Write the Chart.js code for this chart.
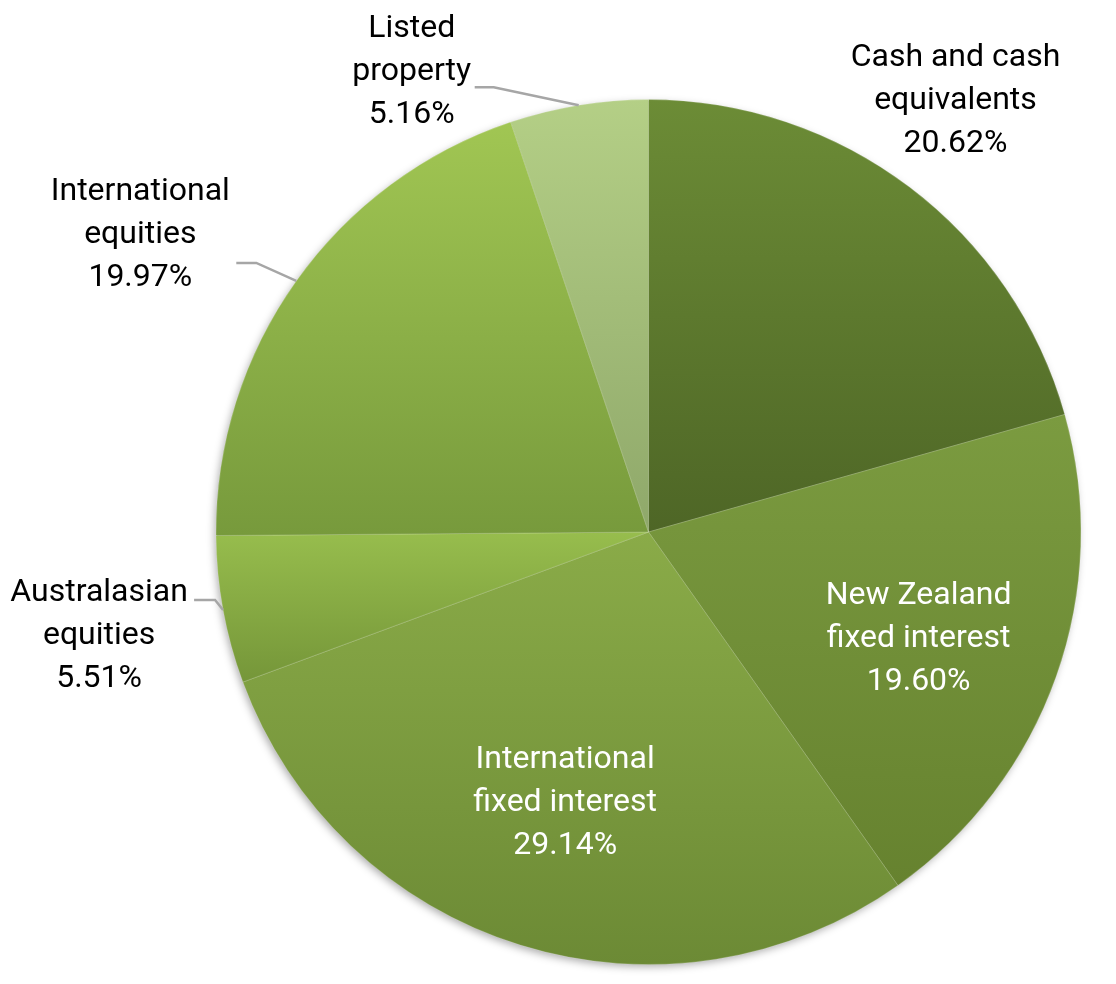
<!DOCTYPE html>
<html>
<head>
<meta charset="utf-8">
<script src="https://cdn.jsdelivr.net/npm/chart.js@4"></script>
<style>
  html, body { margin: 0; padding: 0; background: #ffffff; }
  #wrap { width: 1116px; height: 984px; }
</style>
</head>
<body>
<div id="wrap"><canvas id="graficoPizza"></canvas></div>
<script>
// data
const categories = [
  ['Cash and cash', 'equivalents'],
  ['New Zealand', 'fixed interest'],
  ['International', 'fixed interest'],
  ['Australasian', 'equities'],
  ['International', 'equities'],
  ['Listed', 'property']
];
const shares = [20.62, 19.60, 29.14, 5.51, 19.97, 5.16];

// gradient stops per slice (top, bottom)
const topColors = ['#6c8c36', '#7b9b40', '#8aab48', '#97bd4d', '#a1c653', '#b4cf86'];
const bottomColors = ['#4e6626', '#66822f', '#6c8a35', '#759639', '#779a3c', '#8fa86a'];

// label placement: inside (fraction of radius) or outside (offset from arc edge)
const labelPos = [
  { out: true, dx: 46, dy: -89, color: '#000' },
  { out: false, f: 0.67, ox: -3, oy: 7, color: '#fff' },
  { out: false, f: 0.65, ox: 0, oy: 0, color: '#fff' },
  { out: true, dx: -124, dy: 23, color: '#000', leader: [[-8, -10], [-29, -10]] },
  { out: true, dx: -156, dy: -49, color: '#000', leader: [[-40, -18], [-60, -18]] },
  { out: true, dx: -167, dy: -36, color: '#000', leader: [[-85, -18], [-104, -18]] }
];

function sliceYRange(cx, cy, r, a0, a1) {
  let ys = [cy, cy + r * Math.sin(a0), cy + r * Math.sin(a1)];
  const tops = [-Math.PI / 2, Math.PI * 1.5];
  const bots = [Math.PI / 2];
  tops.forEach(a => { if (a >= a0 && a <= a1) ys.push(cy - r); });
  bots.forEach(a => { if (a >= a0 && a <= a1) ys.push(cy + r); });
  return [Math.min(...ys), Math.max(...ys)];
}

function sliceFill(context) {
  const chart = context.chart;
  const area = chart.chartArea;
  const i = context.dataIndex;
  if (!area || i === undefined) return topColors[i || 0];
  const cx = (area.left + area.right) / 2;
  const cy = (area.top + area.bottom) / 2;
  const r = Math.min(area.right - area.left, area.bottom - area.top) / 2;
  const total = shares.reduce((a, b) => a + b, 0);
  let before = 0;
  for (let k = 0; k < i; k++) before += shares[k];
  const a0 = -Math.PI / 2 + before / total * Math.PI * 2;
  const a1 = a0 + shares[i] / total * Math.PI * 2;
  const yr = sliceYRange(cx, cy, r, a0, a1);
  const g = chart.ctx.createLinearGradient(0, yr[0], 0, yr[1]);
  g.addColorStop(0, topColors[i]);
  g.addColorStop(1, bottomColors[i]);
  return g;
}

const shadowPlugin = {
  id: 'shadowPlugin',
  beforeDatasetsDraw(chart) {
    const arc = chart.getDatasetMeta(0).data[0];
    if (!arc) return;
    const ctx = chart.ctx;
    ctx.save();
    ctx.shadowColor = 'rgba(0,0,0,0.35)';
    ctx.shadowBlur = 9;
    ctx.shadowOffsetX = -2;
    ctx.shadowOffsetY = 3;
    ctx.fillStyle = '#6f8f38';
    ctx.beginPath();
    ctx.arc(arc.x, arc.y, arc.outerRadius - 1, 0, Math.PI * 2);
    ctx.fill();
    ctx.restore();
  }
};

const labelPlugin = {
  id: 'labelPlugin',
  afterDatasetsDraw(chart) {
    const ctx = chart.ctx;
    const arcs = chart.getDatasetMeta(0).data;
    ctx.save();
    ctx.font = '32px Roboto';
    ctx.textAlign = 'center';
    ctx.textBaseline = 'middle';
    arcs.forEach((arc, i) => {
      const mid = (arc.startAngle + arc.endAngle) / 2;
      const p = labelPos[i];
      let tx, ty;
      if (p.out) {
        const ex = arc.x + arc.outerRadius * Math.cos(mid);
        const ey = arc.y + arc.outerRadius * Math.sin(mid);
        tx = ex + p.dx;
        ty = ey + p.dy;
        if (p.leader) {
          ctx.strokeStyle = '#a6a6a6';
          ctx.lineWidth = 2.5;
          ctx.beginPath();
          ctx.moveTo(ex, ey);
          p.leader.forEach(pt => ctx.lineTo(ex + pt[0], ey + pt[1]));
          ctx.stroke();
        }
      } else {
        tx = arc.x + arc.outerRadius * p.f * Math.cos(mid) + p.ox;
        ty = arc.y + arc.outerRadius * p.f * Math.sin(mid) + p.oy;
      }
      const lines = categories[i].concat([shares[i].toFixed(2) + '%']);
      const lh = 43;
      ctx.fillStyle = p.color;
      lines.forEach((t, k) => {
        ctx.fillText(t, tx, ty + 3 + (k - (lines.length - 1) / 2) * lh);
      });
    });
    ctx.restore();
  }
};

window.onload = function() {
  let ctx1 = document.getElementById('graficoPizza').getContext('2d');
  new Chart(ctx1, {
    type: 'pie',
    data: {
      labels: categories,
      datasets: [{
        data: shares,
        backgroundColor: sliceFill,
        borderColor: 'rgba(255,255,255,0.18)',
        borderWidth: 1
      }]
    },
    options: {
      responsive: true,
      maintainAspectRatio: false,
      animation: false,
      layout: { padding: { left: 215, right: 34, top: 99, bottom: 19 } },
      plugins: {
        legend: { display: false },
        tooltip: { enabled: false }
      }
    },
    plugins: [shadowPlugin, labelPlugin]
  });
};
</script>
</body>
</html>
